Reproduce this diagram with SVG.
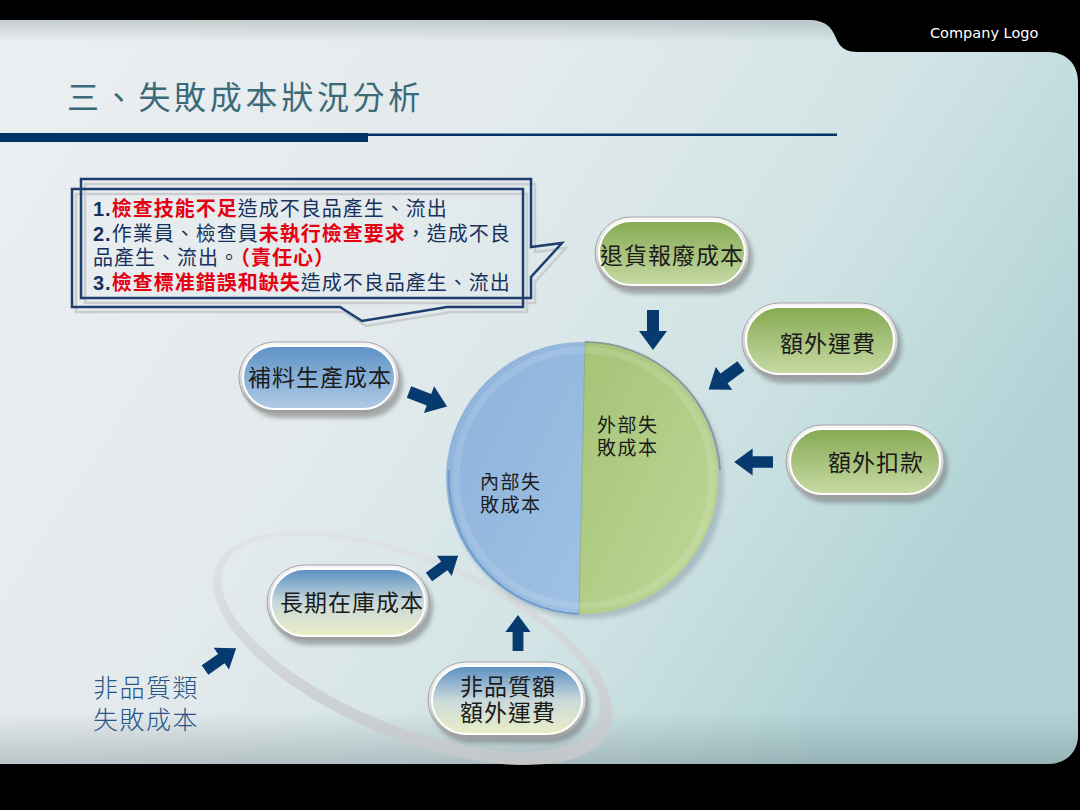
<svg xmlns="http://www.w3.org/2000/svg" width="1080" height="810" viewBox="0 0 1080 810">
<defs>
  <linearGradient id="bg" x1="0" y1="0" x2="1" y2="0.45">
    <stop offset="0" stop-color="#eceff1"/>
    <stop offset="0.45" stop-color="#e3eaec"/>
    <stop offset="0.75" stop-color="#d0e3e4"/>
    <stop offset="1" stop-color="#b2d3d6"/>
  </linearGradient>
  <linearGradient id="bgShade" x1="0" y1="0" x2="0" y2="1">
    <stop offset="0" stop-color="#5a6a70" stop-opacity="0.25"/>
    <stop offset="0.03" stop-color="#5a6a70" stop-opacity="0"/>
    <stop offset="0.93" stop-color="#5a6a70" stop-opacity="0"/>
    <stop offset="1" stop-color="#5a6a70" stop-opacity="0.3"/>
  </linearGradient>
  <linearGradient id="rim" x1="0" y1="0" x2="0" y2="1">
    <stop offset="0" stop-color="#f6f6f6"/>
    <stop offset="0.6" stop-color="#d2d2d2"/>
    <stop offset="1" stop-color="#9a9a9a"/>
  </linearGradient>
  <linearGradient id="gFill" x1="0" y1="0" x2="0" y2="1">
    <stop offset="0" stop-color="#86aa52"/>
    <stop offset="1" stop-color="#c7daa5"/>
  </linearGradient>
  <linearGradient id="bFill" x1="0" y1="0" x2="0" y2="1">
    <stop offset="0" stop-color="#5e92c7"/>
    <stop offset="1" stop-color="#b0cbe5"/>
  </linearGradient>
  <linearGradient id="byFill" x1="0" y1="0" x2="0" y2="1">
    <stop offset="0" stop-color="#5b8ec2"/>
    <stop offset="0.5" stop-color="#c9d9db"/>
    <stop offset="1" stop-color="#eaeec6"/>
  </linearGradient>
  <linearGradient id="cBlue" x1="0" y1="0" x2="1" y2="1">
    <stop offset="0" stop-color="#8cb1da"/>
    <stop offset="1" stop-color="#9fc1e3"/>
  </linearGradient>
  <linearGradient id="cGreen" x1="0" y1="0" x2="1" y2="1">
    <stop offset="0" stop-color="#a4c476"/>
    <stop offset="1" stop-color="#bfd798"/>
  </linearGradient>
  <linearGradient id="ringG" x1="0" y1="0" x2="1" y2="1">
    <stop offset="0" stop-color="#e6e8e9"/>
    <stop offset="1" stop-color="#c0c2c4"/>
  </linearGradient>
  <filter id="sh" x="-20%" y="-20%" width="150%" height="160%">
    <feGaussianBlur stdDeviation="2"/>
  </filter>
  <path id="arrow" d="M0,-6 L21,-6 L21,-14 L40,0 L21,14 L21,6 L0,6 Z"/>
  <style>
    .cjk{font-family:"Liberation Sans","Noto Sans CJK TC","Noto Sans CJK SC",sans-serif}
    .shadow{fill:#6f7476;opacity:.55;filter:url(#sh)}
    .rim{fill:url(#rim);stroke:#a5a5a5;stroke-width:1}
    .in-g{fill:url(#gFill);stroke:#ffffff;stroke-width:2}
    .in-b{fill:url(#bFill);stroke:#ffffff;stroke-width:2}
    .in-by{fill:url(#byFill);stroke:#ffffff;stroke-width:2}
    .pt{font-size:23px;fill:#1b1b1b;text-anchor:middle;letter-spacing:1px}
    .ctext{font-size:20px;fill:#17325e;letter-spacing:1px}
    .num{font-family:"Liberation Sans",Arial,sans-serif;font-weight:bold}
    .red{fill:#e60012;font-weight:bold}
    .callout{fill:none;stroke:#1d3e6e;stroke-width:2.5}
    .callout-sh{fill:none;stroke:#c9cdd1;stroke-width:2.5}
    .arr{fill:#073a6e}
    .circ-t{font-size:19px;fill:#1b1b1b;letter-spacing:1.5px}
  </style>
</defs>

<!-- background -->
<rect x="0" y="0" width="1080" height="810" fill="#000000"/>
<g id="panel">
  <path d="M0,20 L808,20 C826,20 832,28 836,38 C840,48 846,52 858,52 L1048,52 C1066,52 1078,64 1078,82 L1078,735 C1078,752 1066,764 1048,764 L0,764 Z" fill="url(#bg)"/>
  <path d="M0,20 L808,20 C826,20 832,28 836,38 C840,48 846,52 858,52 L1048,52 C1066,52 1078,64 1078,82 L1078,735 C1078,752 1066,764 1048,764 L0,764 Z" fill="url(#bgShade)"/>
</g>

<text id="logo" x="930" y="38" font-family="DejaVu Sans, sans-serif" font-size="14.5" fill="#ffffff">Company Logo</text>

<g id="title">
  <text class="cjk" x="67" y="109" font-size="32" fill="#3b6a79" letter-spacing="3.7">三、失敗成本狀況分析</text>
  <rect x="0" y="133" width="368" height="9" fill="#003366"/>
  <rect x="368" y="133.5" width="469" height="2.5" fill="#003366"/>
</g>

<!-- ring -->
<g id="ring" transform="rotate(22.5 413 648)">
  <path fill="url(#ringG)" fill-rule="evenodd" opacity="0.9" d="M200,648 a213,91 0 1,0 426,0 a213,91 0 1,0 -426,0 Z M207,645 a202,82 0 1,0 404,0 a202,82 0 1,0 -404,0 Z"/>
</g>

<!-- callout -->
<g id="callout">
  <path class="callout-sh" d="M85,184 L535,184 L535,252 L566,248 L535,282 L535,303 L85,303 Z"/>
  <path class="callout-sh" d="M76,194 L527,194 L527,312 L451,312 L366,326 L344,312 L76,312 Z"/>
  <path class="callout" d="M81,179 L531,179 L531,247 L562,243 L531,277 L531,298 L81,298 Z"/>
  <path class="callout" d="M72,189 L523,189 L523,307 L447,307 L362,321 L340,307 L72,307 Z" fill="#ffffff" fill-opacity="0.15"/>
  <text class="cjk ctext" x="93" y="216"><tspan class="num">1.</tspan><tspan class="red">檢查技能不足</tspan>造成不良品產生、流出</text>
  <text class="cjk ctext" x="93" y="241"><tspan class="num">2.</tspan>作業員、檢查員<tspan class="red">未執行檢查要求</tspan>，造成不良</text>
  <text class="cjk ctext" x="93" y="265">品產生、流出。<tspan class="red">（責任心）</tspan></text>
  <text class="cjk ctext" x="93" y="290"><tspan class="num">3.</tspan><tspan class="red">檢查標准錯誤和缺失</tspan>造成不良品產生、流出</text>
</g>

<!-- connectors -->
<g id="connectors">
  <use href="#arrow" class="arr" transform="translate(653,310) rotate(90)"/>
  <use href="#arrow" class="arr" transform="translate(741,366) rotate(144)"/>
  <use href="#arrow" class="arr" transform="translate(773,462) rotate(180) scale(0.97)"/>
  <use href="#arrow" class="arr" transform="translate(409,392) rotate(21) scale(1.02)"/>
  <use href="#arrow" class="arr" transform="translate(429,577) rotate(-36) scale(0.9)"/>
  <use href="#arrow" class="arr" transform="translate(518,651) rotate(-90) scale(0.9)"/>
  <use href="#arrow" class="arr" transform="translate(205,670) rotate(-35) scale(0.95)"/>
</g>

<!-- central circle -->
<g id="n-circle">
  <circle cx="587" cy="482" r="137" fill="#6d7f8c" opacity="0.35" filter="url(#sh)"/>
  <path d="M585,342 A136,136 0 0 0 579,614 Z" fill="url(#cBlue)"/>
  <path d="M585,342 A136,136 0 1 1 579,614 Z" fill="url(#cGreen)"/>
  <path d="M585,342 L579,614" stroke="#7f9a6a" stroke-width="0.8" opacity="0.6"/>
  <circle cx="584" cy="478" r="128" fill="none" stroke="#ffffff" stroke-opacity="0.12" stroke-width="7"/>
  <path d="M585,342 A136,136 0 0 1 720,470" fill="none" stroke="#8c9a96" stroke-width="2"/>
  <path d="M579,614 A136,136 0 0 1 449,470" fill="none" stroke="#6f9ccc" stroke-width="2"/>
  <text class="cjk circ-t" x="597" y="432">外部失</text>
  <text class="cjk circ-t" x="597" y="455">敗成本</text>
  <text class="cjk circ-t" x="480" y="489">內部失</text>
  <text class="cjk circ-t" x="480" y="512">敗成本</text>
</g>

<!-- pills -->
<g id="n-tuihuo">
  <rect class="shadow" x="599" y="222" width="154" height="72" rx="36"/>
  <rect class="rim" x="595" y="217" width="154" height="72" rx="36"/>
  <rect class="in-g" x="599" y="221" width="146" height="64" rx="32"/>
  <text class="cjk pt" x="672" y="264">退貨報廢成本</text>
</g>

<g id="n-ewaiyunfei">
  <rect class="shadow" x="746" y="308" width="156" height="75" rx="37.5"/>
  <rect class="rim" x="742" y="303" width="156" height="75" rx="37.5"/>
  <rect class="in-g" x="746" y="307" width="148" height="67" rx="33.5"/>
  <text class="cjk pt" x="828" y="352">額外運費</text>
</g>

<g id="n-ewaikoukuan">
  <rect class="shadow" x="790" y="430" width="158" height="73" rx="36.5"/>
  <rect class="rim" x="786" y="425" width="158" height="73" rx="36.5"/>
  <rect class="in-g" x="790" y="429" width="150" height="65" rx="32.5"/>
  <text class="cjk pt" x="876" y="471">額外扣款</text>
</g>

<g id="n-buliao">
  <rect class="shadow" x="243" y="347" width="160" height="71" rx="35.5"/>
  <rect class="rim" x="239" y="342" width="160" height="71" rx="35.5"/>
  <rect class="in-b" x="243" y="346" width="152" height="63" rx="31.5"/>
  <text class="cjk pt" x="320" y="386">補料生產成本</text>
</g>

<g id="n-changqi">
  <rect class="shadow" x="271" y="570" width="162" height="75" rx="37.5"/>
  <rect class="rim" x="267" y="565" width="162" height="75" rx="37.5"/>
  <rect class="in-by" x="271" y="569" width="154" height="67" rx="33.5"/>
  <text class="cjk pt" x="352" y="611">長期在庫成本</text>
</g>

<g id="n-feipinzhi">
  <rect class="shadow" x="432" y="667" width="158" height="76" rx="38"/>
  <rect class="rim" x="428" y="662" width="158" height="76" rx="38"/>
  <rect class="in-by" x="432" y="666" width="150" height="68" rx="34"/>
  <text class="cjk pt" x="508" y="695">非品質額</text>
  <text class="cjk pt" x="508" y="721">額外運費</text>
</g>

<g id="label-nonquality">
  <text class="cjk" x="93" y="697" font-size="25" font-weight="300" fill="#2a5488" letter-spacing="1.5">非品質類</text>
  <text class="cjk" x="93" y="729" font-size="25" font-weight="300" fill="#2a5488" letter-spacing="1.5">失敗成本</text>
</g>
</svg>
